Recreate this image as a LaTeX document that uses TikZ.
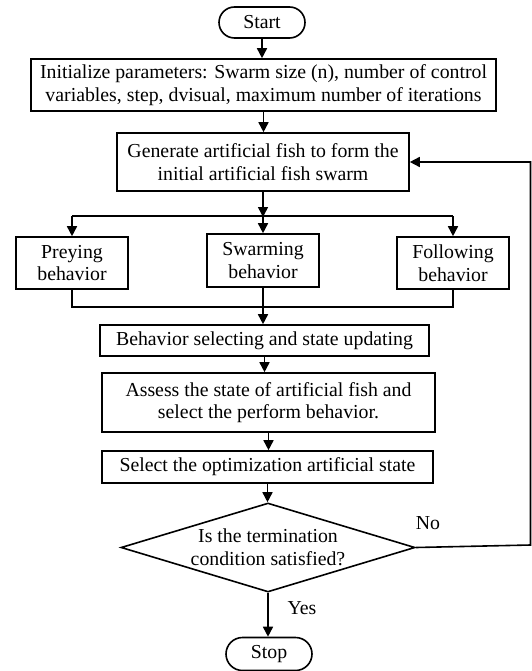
\documentclass[tikz,border=0pt]{standalone}
\usepackage{fontspec}
\setmainfont{Liberation Serif}
\usetikzlibrary{arrows.meta,shapes.geometric,shapes.misc}
\begin{document}
\begin{tikzpicture}[x=1pt,y=-1pt,
  font=\fontsize{19.8}{22.5}\selectfont,
  line width=1.6pt,
  box/.style={draw,rectangle,inner sep=0pt,align=center},
  term/.style={draw,rounded rectangle,inner sep=0pt,minimum width=86pt,minimum height=31pt},
  arr/.style={-{Triangle[length=10pt,width=10pt]}},
  lbl/.style={inner sep=0pt}]
\useasboundingbox (0,0) rectangle (531,671);
\node[term] (start) at (262,22.5) {Start};
\node[box,minimum width=465pt,minimum height=52pt] (init) at (263.5,85)
  {Initialize parameters: Swarm size (n), number of control\\variables, step, dvisual, maximum number of iterations};
\node[box,minimum width=292pt,minimum height=58pt] (gen) at (263,162)
  {Generate artificial fish to form the\\initial artificial fish swarm};
\node[box,minimum width=112pt,minimum height=52pt] (prey) at (72,263) {Preying\\behavior};
\node[box,minimum width=112pt,minimum height=53pt] (swarm) at (263,260.5) {Swarming\\behavior};
\node[box,minimum width=112pt,minimum height=52pt] (follow) at (453,263) {Following\\behavior};
\node[box,minimum width=329pt,minimum height=31pt] (behav) at (264.5,340.5) {Behavior selecting and state updating};
\node[box,minimum width=333pt,minimum height=59pt] (assess) at (268.5,402.5)
  {Assess the state of artificial fish and\\select the perform behavior.};
\node[box,minimum width=331pt,minimum height=32pt] (select) at (267.5,467) {Select the optimization artificial state};
\node[draw,diamond,aspect=3.3,inner sep=0pt,minimum width=294pt,minimum height=89pt,align=center] (dec) at (268,547.5)
  {\raisebox{-5pt}{\parbox{170pt}{\centering Is the termination\\condition satisfied?}}};
\node[term,minimum height=33pt] (stop) at (269,654) {Stop};
\coordinate (branch) at (263,217);
\coordinate (merge) at (263,307);
\coordinate (nocorner) at (530.5,545);
\coordinate (fbcorner) at (530.5,162);
\node[lbl] (no) at (428,523) {No};
\node[lbl] (yes) at (302,608) {Yes};
\draw[arr] (start.south) -- (start.south |- init.north);
\draw[arr] (init.south) -- (init.south |- gen.north);
\draw[arr] (gen.south) -- (branch);
\draw (prey.north) ++(0,-20) coordinate (pl) -- (follow.north |- pl);
\draw[arr] (pl) -- (prey.north);
\draw[arr] (branch) -- (swarm.north);
\draw[arr] (follow.north |- pl) -- (follow.north);
\draw (prey.south) |- (merge) -| (follow.south);
\draw[arr] (swarm.south) -- (swarm.south |- behav.north);
\draw[arr] (behav.south) -- (behav.south |- assess.north);
\draw[arr] (assess.south) -- (assess.south |- select.north);
\draw[arr] (select.south) -- (select.south |- dec.north);
\draw[arr] (dec.south) -- (dec.south |- stop.north);
\draw[arr] (dec.east) -- (nocorner) -- (fbcorner) -- (gen.east);
\end{tikzpicture}
\end{document}
